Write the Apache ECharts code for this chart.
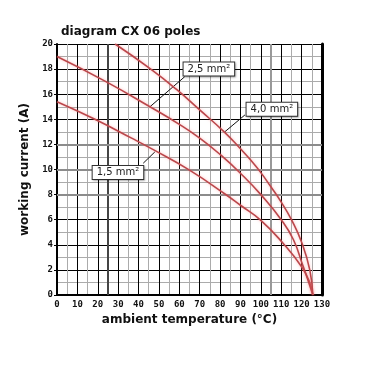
<!DOCTYPE html>
<html>
<head>
<meta charset="utf-8">
<script src="https://cdn.jsdelivr.net/npm/echarts@6/dist/echarts.min.js"></script>
<style>
html,body{margin:0;padding:0;background:#fff;}
#c{width:380px;height:380px;}
</style>
</head>
<body>
<div id="c"></div>
<script>
// ---- data ----
var titleText = 'diagram CX 06 poles';
var xName = 'ambient temperature (\u00B0C)';
var yName = 'working current (A)';

var seriesNames = ['1,5 mm\u00B2', '2,5 mm\u00B2', '4,0 mm\u00B2'];

var temp15 = [0, 18.6, 36.6, 47, 65, 82.4, 90, 100, 111, 120, 124, 125.5];
var curr15 = [15.4, 14.0, 12.5, 11.6, 9.95, 8.05, 7.15, 5.95, 4.1, 2.25, 1.0, 0];

var temp25 = [0, 24, 45.6, 60, 70, 80, 90, 100, 110, 116, 120.7, 123.5, 125.5];
var curr25 = [19.0, 17.0, 15.0, 13.6, 12.5, 11.2, 9.7, 8.0, 6.0, 4.4, 2.3, 1.0, 0];

var temp40 = [28.5, 46, 58.5, 70, 82, 90, 95, 100, 105, 110, 115, 120, 124, 125.5];
var curr40 = [20, 18, 16.4, 14.75, 13.0, 11.65, 10.75, 9.75, 8.6, 7.4, 6.0, 4.2, 2.0, 0];

// label boxes [temp, current] and pointer lines [from temp, from current, to temp, to current]
var labelAt15 = [29.9, 9.76];
var labelAt25 = [74.5, 18.0];
var labelAt40 = [105.4, 14.8];
var pointer15 = [42.3, 10.5, 48, 11.4];
var pointer25 = [62.7, 17.4, 45.6, 15.0];
var pointer40 = [92.2, 14.35, 82.3, 13.0];

// emphasized grid lines in the scan
var thickX = [25, 105];
var thickY = [8, 10, 12];

var xMin = 0, xMax = 130, xStep = 10;
var yMin = 0, yMax = 20, yStep = 2;

function zip(a, b) { return a.map(function (v, i) { return [v, b[i]]; }); }

var lineColor = '#bb474b';
var monoFont = '"DejaVu Sans Mono", monospace';

function curveSeries(name, xs, ys, labelAt, pointer) {
  return {
    name: name,
    type: 'line',
    data: zip(xs, ys),
    smooth: 0.5,
    showSymbol: false,
    z: 5,
    lineStyle: { color: lineColor, width: 1.6, shadowColor: 'rgba(255,120,120,0.5)', shadowBlur: 3 },
    markLine: {
      silent: true,
      symbol: ['none', 'none'],
      label: { show: false },
      lineStyle: { color: '#111', width: 1, type: 'solid' },
      data: [[{ coord: [pointer[0], pointer[1]] }, { coord: [pointer[2], pointer[3]] }]]
    },
    markPoint: {
      silent: true,
      symbol: 'rect',
      symbolSize: 1,
      itemStyle: { color: 'rgba(0,0,0,0)' },
      label: {
        show: true,
        position: 'inside',
        formatter: name,
        color: '#222',
        fontSize: 10,
        fontFamily: '"DejaVu Sans", sans-serif',
        backgroundColor: '#fff',
        borderColor: '#333',
        borderWidth: 1,
        padding: [2, 4, 1, 4],
        shadowColor: 'rgba(0,0,0,0.25)',
        shadowBlur: 2,
        shadowOffsetX: 1,
        shadowOffsetY: 1
      },
      data: [{ coord: labelAt }]
    }
  };
}

var chart = echarts.init(document.getElementById('c'), null, { renderer: 'canvas' });

var gridLinesSeries = {
  type: 'line',
  data: [],
  silent: true,
  z: 1,
  markLine: {
    silent: true,
    symbol: ['none', 'none'],
    label: { show: false },
    data: thickX.map(function (v, i) {
      return { xAxis: v, lineStyle: { color: i === 0 ? '#444' : '#999', width: 2, type: 'solid' } };
    }).concat(thickY.map(function (v) {
      return { yAxis: v, lineStyle: { color: '#8c8c8c', width: 2, type: 'solid' } };
    }))
  }
};

chart.setOption({
  animation: false,
  backgroundColor: '#fff',
  title: {
    text: titleText,
    left: 56,
    top: 21,
    textStyle: { fontSize: 12, fontWeight: 'bold', color: '#111', fontFamily: '"DejaVu Sans", sans-serif' }
  },
  grid: { left: 57, right: 58, top: 44, bottom: 85, containLabel: false },
  xAxis: {
    type: 'value',
    min: xMin, max: xMax, interval: xStep,
    name: xName,
    nameLocation: 'middle',
    nameGap: 19,
    nameTextStyle: { fontSize: 12, fontWeight: 'bold', color: '#111', fontFamily: '"DejaVu Sans", sans-serif' },
    axisLine: { show: true, lineStyle: { color: '#000', width: 2 } },
    axisTick: { show: false },
    axisLabel: { color: '#111', fontSize: 9, fontWeight: 'bold', fontFamily: monoFont, margin: 5 },
    splitLine: { show: true, lineStyle: { color: '#000', width: 1 } },
    minorTick: { show: false, splitNumber: 2 },
    minorSplitLine: { show: true, lineStyle: { color: '#ababab', width: 1 } }
  },
  yAxis: [{
    type: 'value',
    min: yMin, max: yMax, interval: yStep,
    name: yName,
    nameLocation: 'middle',
    nameGap: 23,
    nameRotate: 90,
    nameTextStyle: { fontSize: 12, fontWeight: 'bold', color: '#111', fontFamily: '"DejaVu Sans", sans-serif' },
    axisLine: { show: true, lineStyle: { color: '#000', width: 2 } },
    axisTick: { show: true, length: 3, lineStyle: { color: '#000', width: 1 } },
    axisLabel: { color: '#111', fontSize: 9, fontWeight: 'bold', fontFamily: monoFont, margin: 4 },
    splitLine: { show: true, lineStyle: { color: '#000', width: 1 } },
    minorTick: { show: false, splitNumber: 2 },
    minorSplitLine: { show: true, lineStyle: { color: '#ababab', width: 1 } }
  }, {
    type: 'value',
    position: 'right',
    min: yMin, max: yMax, interval: yStep,
    axisLine: { show: true, lineStyle: { color: '#000', width: 3 } },
    axisTick: { show: false },
    axisLabel: { show: false },
    splitLine: { show: false }
  }],
  series: [
    gridLinesSeries,
    curveSeries(seriesNames[0], temp15, curr15, labelAt15, pointer15),
    curveSeries(seriesNames[1], temp25, curr25, labelAt25, pointer25),
    curveSeries(seriesNames[2], temp40, curr40, labelAt40, pointer40)
  ]
});
</script>
</body>
</html>
